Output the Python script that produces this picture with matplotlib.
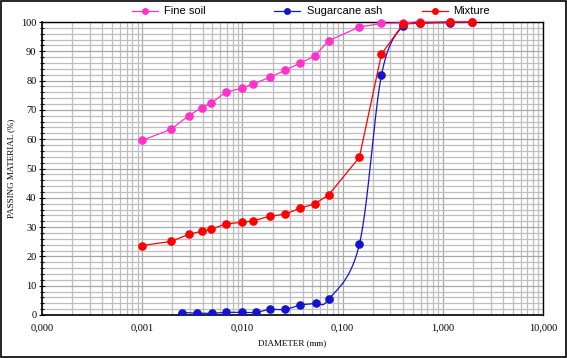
import numpy as np
import matplotlib
matplotlib.use("Agg")
import matplotlib.pyplot as plt
from matplotlib.ticker import FixedLocator, NullFormatter, MultipleLocator
from matplotlib.lines import Line2D

# ---- data ----
fine_x = [0.001, 0.00194, 0.00291, 0.00392, 0.00483, 0.00681, 0.0098, 0.0127, 0.0187,
          0.0266, 0.0372, 0.0525, 0.0725, 0.147, 0.244, 0.40, 0.595, 1.19, 1.96]
fine_y = [59.6, 63.4, 68.0, 70.8, 72.2, 76.0, 77.4, 78.8, 81.1, 83.5, 85.9, 88.3, 93.6,
          98.3, 99.5, 99.7, 100, 100, 100]

ash_x = [0.00165, 0.00249, 0.00349, 0.00493, 0.0069, 0.0098, 0.0137, 0.0187, 0.0266, 0.038,
         0.0537, 0.0725, 0.147, 0.244, 0.40, 0.595, 1.19, 1.96]
ash_y = [-2.0, 0.6, 0.6, 0.6, 0.9, 0.9, 0.9, 1.9, 1.9, 3.4, 4.0, 5.3, 24.1, 81.8, 98.7, 99.6,
         99.8, 99.9]

mix_x = [0.001, 0.00194, 0.00291, 0.00392, 0.00483, 0.00681, 0.0098, 0.0127, 0.0187,
         0.0266, 0.0372, 0.0525, 0.0725, 0.147, 0.244, 0.40, 0.595, 1.19, 1.96]
mix_y = [23.7, 25.1, 27.5, 28.6, 29.2, 31.1, 31.6, 32.1, 33.7, 34.4, 36.4, 37.9, 41.0,
         53.8, 89.0, 99.2, 99.7, 100, 100]

series_names = ["Fine soil", "Sugarcane ash", "Mixture"]
x_ticks = [0.0001, 0.001, 0.01, 0.1, 1, 10]
x_labels = ["0,000", "0,001", "0,010", "0,100", "1,000", "10,000"]

PINK = "#FF33CC"
BLUE = "#1414C8"
RED = "#FF0000"
W, H = 567, 358


def smooth(xs, ys, n=30):
    # Catmull-Rom through points in log-x / y display-like space (Excel smoothed line)
    px = np.log10(np.asarray(xs, float)) * 100.0
    py = np.asarray(ys, float) * 2.93
    P = np.column_stack([px, py])
    P = np.vstack([P[0], P, P[-1]])
    out = []
    for i in range(1, len(P) - 2):
        p0, p1, p2, p3 = P[i - 1], P[i], P[i + 1], P[i + 2]
        t = np.linspace(0, 1, n)[:, None]
        seg = 0.5 * ((2 * p1) + (-p0 + p2) * t + (2 * p0 - 5 * p1 + 4 * p2 - p3) * t ** 2
                     + (-p0 + 3 * p1 - 3 * p2 + p3) * t ** 3)
        out.append(seg)
    S = np.vstack(out)
    return 10 ** (S[:, 0] / 100.0), S[:, 1] / 2.93


fig = plt.figure(figsize=(W / 100, H / 100), dpi=100)
ax = fig.add_axes([42 / W, 1 - 315 / H, (543 - 42) / W, (315 - 22) / H])

ax.set_xscale("log")
ax.set_xlim(0.0001, 10)
ax.set_ylim(0, 100)

ax.xaxis.set_major_locator(FixedLocator(x_ticks))
ax.set_xticklabels(x_labels)
minor = [m * 10.0 ** e for e in range(-4, 1) for m in range(2, 10)]
ax.xaxis.set_minor_locator(FixedLocator(minor))
ax.xaxis.set_minor_formatter(NullFormatter())
ax.yaxis.set_major_locator(MultipleLocator(10))
ax.yaxis.set_minor_locator(MultipleLocator(2))

ax.grid(True, which="major", color="#A8A8A8", lw=0.9)
ax.grid(True, which="minor", color="#BEBEBE", lw=0.9)
ax.set_axisbelow(True)

ax.tick_params(axis="x", which="both", length=0, labelsize=7.5, pad=6)
ax.tick_params(axis="y", which="major", length=4, width=0.8, direction="inout", labelsize=7.5, pad=2)
ax.tick_params(axis="y", which="minor", length=3, width=0.8, direction="inout")
for lab in ax.get_xticklabels() + ax.get_yticklabels():
    lab.set_fontfamily("Liberation Serif")

for s in ax.spines.values():
    s.set_color("black")
    s.set_linewidth(1.0)
ax.spines["left"].set_linewidth(1.2)
ax.spines["bottom"].set_linewidth(1.2)

ax.set_xlabel("DIAMETER (mm)", fontfamily="Liberation Serif", fontsize=6.5, labelpad=5)
ax.set_ylabel("PASSING MATERIAL (%)", fontfamily="Liberation Serif", fontsize=6.5, labelpad=4)

ms = 5.2
ax.plot(fine_x, fine_y, color=PINK, lw=0.9, marker="o", ms=ms, mec=PINK, mfc=PINK,
        clip_on=False, zorder=3)
sx, sy = smooth(ash_x, ash_y)
ax.plot(sx, sy, color=BLUE, lw=0.9, zorder=4, clip_on=True)
ax.plot(ash_x, ash_y, color=BLUE, lw=0, marker="o", ms=ms, mec=BLUE, mfc=BLUE,
        clip_on=True, zorder=4)
ax.plot(mix_x, mix_y, color=RED, lw=0.9, marker="o", ms=ms, mec=RED, mfc=RED,
        clip_on=False, zorder=5)

# legend drawn manually (uneven spacing as in reference)
ly = 1 - 11 / H
for (x0, x1, tx), col, name in zip([(132, 158, 164), (274, 300, 307), (422, 448, 453)],
                                   [PINK, BLUE, RED], series_names):
    fig.add_artist(Line2D([x0 / W, x1 / W], [ly, ly], color=col, lw=0.9,
                          transform=fig.transFigure))
    fig.add_artist(Line2D([(x0 + x1) / 2 / W], [ly], color=col, marker="o", ms=4,
                          mfc=col, mec=col, transform=fig.transFigure))
    fig.text(tx / W, ly, name, fontfamily="Liberation Sans", fontsize=8, va="center",
             ha="left")

# outer border
fig.patches.append(plt.Rectangle((0.001, 0.002), 0.997, 0.995, transform=fig.transFigure,
                                 fill=False, edgecolor="black", lw=1.2))

fig.savefig("out.png", dpi=100)
